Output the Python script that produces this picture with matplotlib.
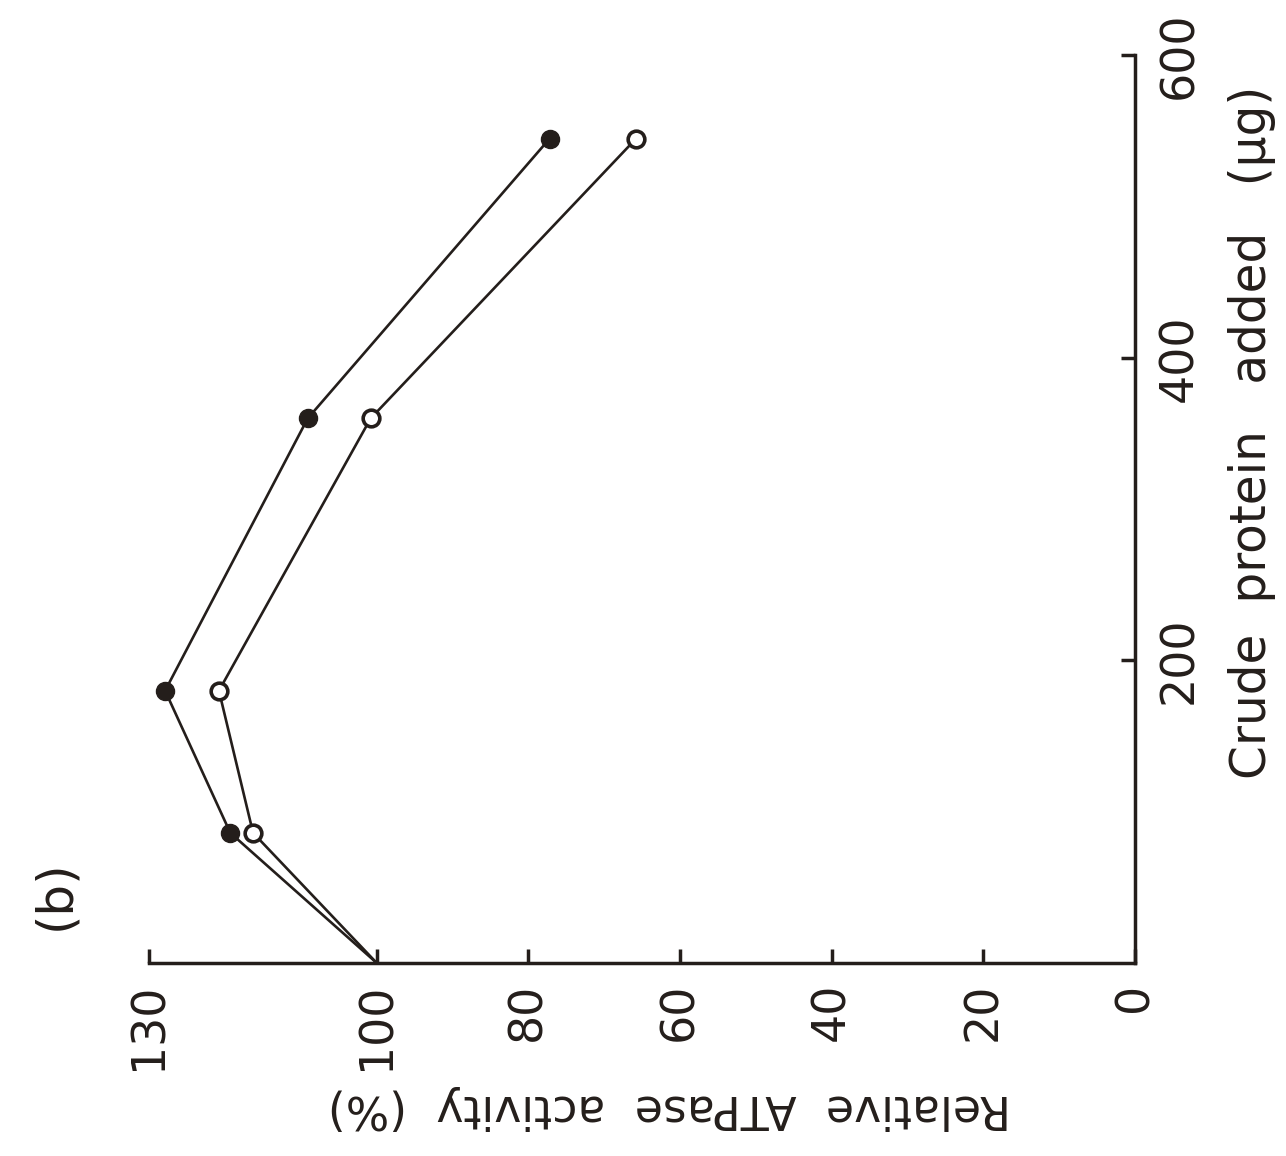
import matplotlib
matplotlib.use('Agg')
import matplotlib.pyplot as plt

protein = [0, 86, 180, 360, 545]           # crude protein added (ug)
activity_filled = [100, 119.3, 127.9, 109.1, 77.2]
activity_open = [100, 116.3, 120.8, 100.8, 65.8]

x_ticks = [130, 100, 80, 60, 40, 20, 0]
y_ticks = [200, 400, 600]

ink = '#241e1b'
plt.rcParams['font.family'] = ['DejaVu Sans']

fig = plt.figure(figsize=(12.86, 11.56), dpi=100)
ax = fig.add_axes([0.116, 0.167, 0.7666, 0.785])

# the figure is printed turned 90 degrees: activity runs right-to-left along the
# bottom, protein runs upward along the right-hand side
# the control point (0 ug, 100 %) carries no marker in the original
ax.plot(activity_filled, protein, color=ink, lw=1.9, marker='o', ms=13,
        mfc=ink, mec=ink, markevery=slice(1, None), zorder=3)
ax.plot(activity_open, protein, color=ink, lw=1.9, marker='o', ms=12,
        mfc='white', mec=ink, mew=2.6, markevery=slice(1, None), zorder=3)

ax.set_xlim(130, 0)
ax.set_ylim(0, 600)

for s in ['top', 'left']:
    ax.spines[s].set_visible(False)
for s in ['bottom', 'right']:
    ax.spines[s].set_linewidth(2.5)
    ax.spines[s].set_color(ink)

ax.set_xticks(x_ticks)
ax.set_xticklabels([str(t) for t in x_ticks], rotation=90)
ax.yaxis.tick_right()
ax.set_yticks(y_ticks)
ax.set_yticklabels([str(t) for t in y_ticks], rotation=90, va='center')
ax.tick_params(axis='x', direction='in', length=10, width=2.5, color=ink,
               labelsize=33, labelcolor=ink, pad=14)
ax.tick_params(axis='y', direction='in', length=10, width=2.5, color=ink,
               labelsize=33, labelcolor=ink, pad=16)

ax.set_xlabel('Relative  ATPase  activity  (%)', rotation=180, fontsize=33,
              color=ink)
ax.xaxis.set_label_coords(0.528, -0.134)
ax.yaxis.set_label_position('right')
ax.set_ylabel('Crude  protein   added   (\u03bcg)', rotation=90, fontsize=35,
              color=ink)
ax.yaxis.set_label_coords(1.094, 0.585)

fig.text(0.043, 0.226, '(b)', rotation=90, fontsize=36, color=ink,
         ha='center', va='center')

fig.savefig('out.png', dpi=100, facecolor='white')
